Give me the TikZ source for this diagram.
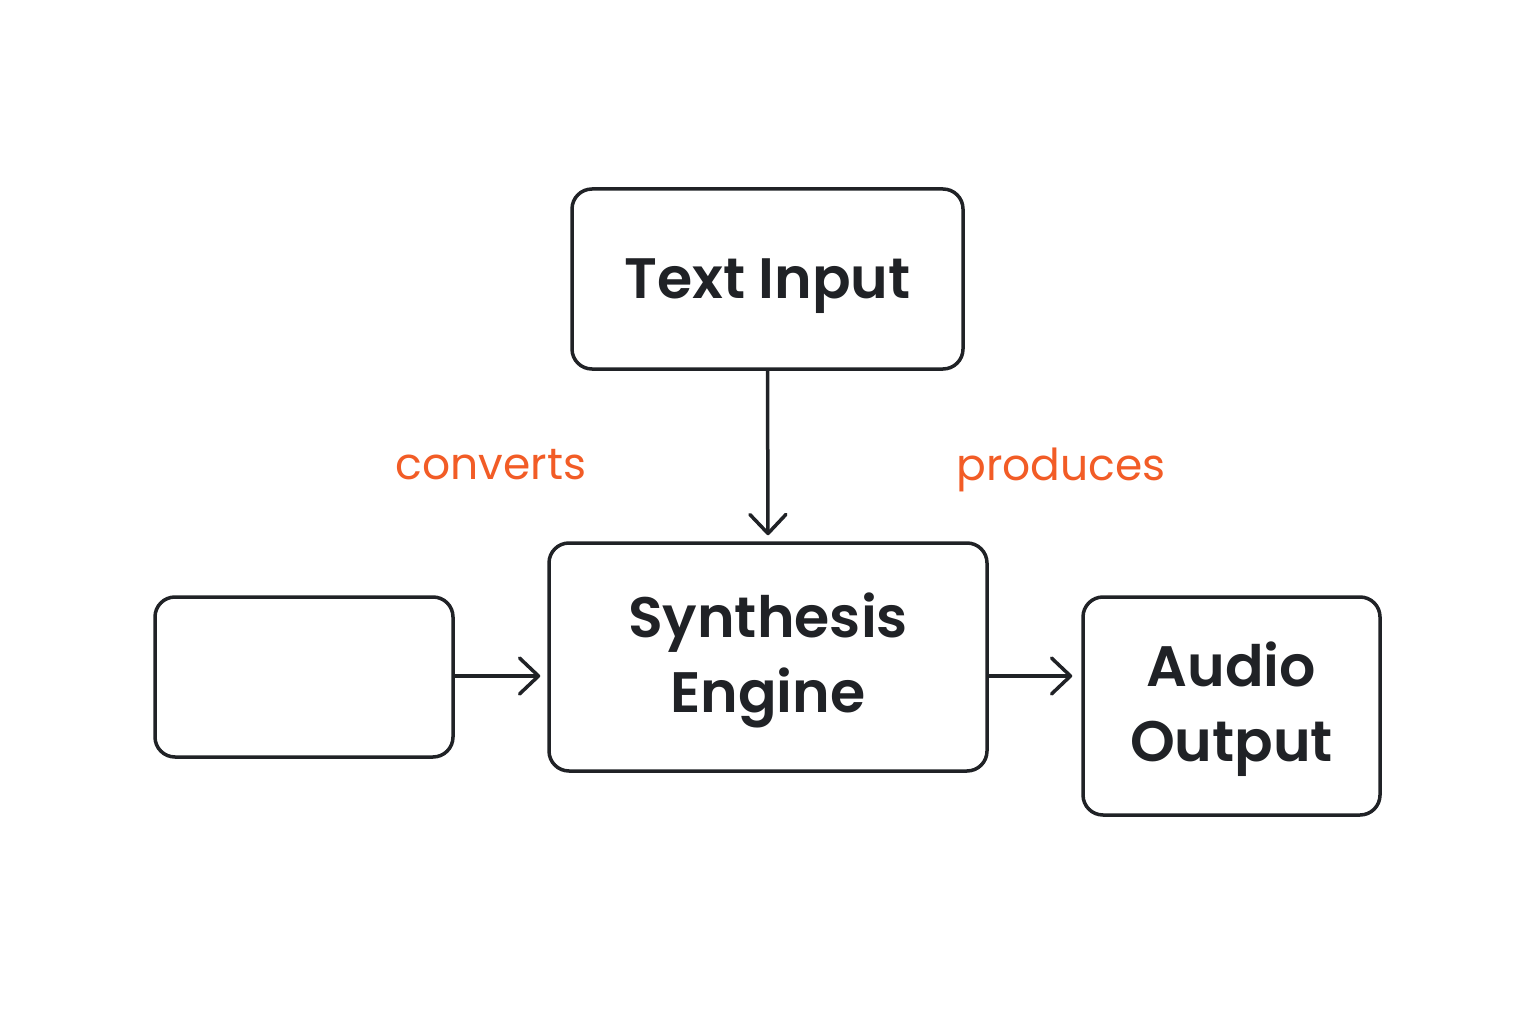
\documentclass[tikz,border=0pt]{standalone}
\usepackage{fontspec}
\setmainfont{Poppins}[BoldFont={Poppins SemiBold}]
\usetikzlibrary{arrows.meta}
\definecolor{ink}{RGB}{32,34,38}
\definecolor{accent}{RGB}{242,92,38}
\tikzset{
  box/.style={draw=ink, line width=3.5pt, rounded corners=20pt, fill=white, font=\fontsize{57}{74.5}\selectfont\bfseries, text=ink, inner sep=0pt},
  conn/.style={draw=ink, line width=3.5pt, -{Straight Barb[length=19pt,width=36pt,round]}},
  lbl/.style={text=accent, font=\fontsize{44}{50}\selectfont, anchor=base}
}
\newcommand{\boxtext}[2][-4pt]{\raisebox{#1}[\height][\depth]{\begin{tabular}{@{}c@{}}#2\end{tabular}}}
\begin{document}
\begin{tikzpicture}[x=1pt,y=-1pt]
\useasboundingbox[fill=white] (0,0) rectangle (1536,1024);
\node[box, minimum width=391pt, minimum height=180pt] (txt) at (767.5,279) {\boxtext[-4.5pt]{Text Input}};
\node[box, minimum width=438pt, minimum height=228pt] (syn) at (768,657) {\boxtext[-3pt]{Synthesis\\Engine}};
\node[box, minimum width=298pt, minimum height=160pt] (left) at (304,677) {};
\node[box, minimum width=297pt, minimum height=218pt] (aud) at (1231.5,706) {\boxtext[-3pt]{Audio\\Output}};
\draw[conn] (txt.south) -- ([yshift=6pt]syn.north);
\draw[conn] (left.east |- 0,676) -- ([xshift=-7pt]syn.west |- 0,676);
\draw[conn] (syn.east |- 0,676) -- ([xshift=-9pt]aud.west |- 0,676);
\node[lbl] (cv) at (491,479) {converts};
\node[lbl] (pr) at (1061,480) {produces};
\end{tikzpicture}
\end{document}
